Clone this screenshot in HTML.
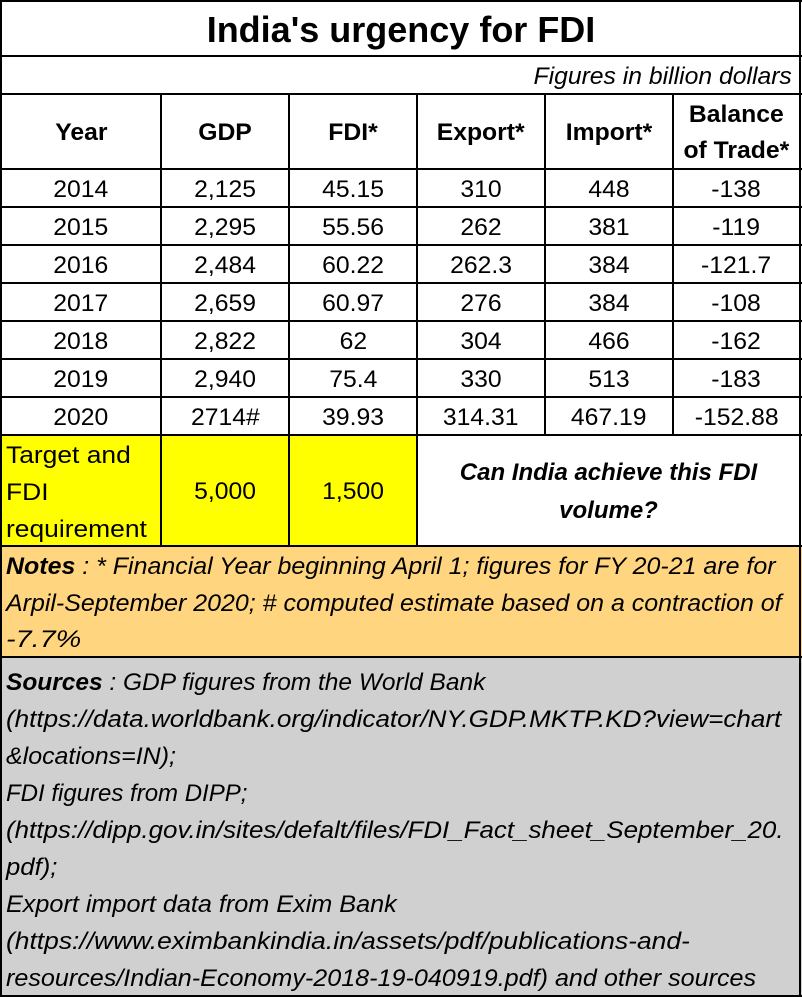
<!DOCTYPE html>
<html><head><meta charset="utf-8"><style>
body{margin:0;width:802px;height:997px;position:relative;background:#fff;font-family:"Liberation Sans",sans-serif;color:#000;overflow:hidden}
.h{position:absolute;height:2px;background:#000}
.v{position:absolute;width:2px;background:#000}
.c{position:absolute;display:flex;align-items:center;justify-content:center;text-align:center;font-size:24px;white-space:nowrap;padding-top:3px;box-sizing:border-box}
.c span{display:inline-block;transform:scaleX(1.03)}
.b{font-weight:bold}
.l{position:absolute;left:6px;font-size:24px;font-style:italic;white-space:nowrap;transform-origin:left center;line-height:37px}
</style></head><body>
<div style="position:absolute;left:0;top:434px;width:416px;height:111px;background:#ffff00"></div>
<div style="position:absolute;left:0;top:545px;width:802px;height:111px;background:#ffd580"></div>
<div style="position:absolute;left:0;top:656px;width:802px;height:341px;background:#d0d0d0"></div>

<div class="h" style="left:0;top:0;width:802px"></div>
<div class="h" style="left:0;top:55px;width:802px"></div>
<div class="h" style="left:0;top:93px;width:802px"></div>
<div class="h" style="left:0;top:168px;width:802px"></div>
<div class="h" style="left:0;top:206px;width:802px"></div>
<div class="h" style="left:0;top:244px;width:802px"></div>
<div class="h" style="left:0;top:282px;width:802px"></div>
<div class="h" style="left:0;top:320px;width:802px"></div>
<div class="h" style="left:0;top:358px;width:802px"></div>
<div class="h" style="left:0;top:396px;width:802px"></div>
<div class="h" style="left:0;top:434px;width:802px"></div>
<div class="h" style="left:0;top:545px;width:802px"></div>
<div class="h" style="left:0;top:656px;width:802px"></div>
<div class="h" style="left:0;top:995px;width:802px"></div>
<div class="v" style="left:0;top:0;height:997px"></div>
<div class="v" style="left:799px;top:0;height:997px"></div>
<div class="v" style="left:160px;top:93px;height:452px"></div>
<div class="v" style="left:288px;top:93px;height:452px"></div>
<div class="v" style="left:416px;top:93px;height:452px"></div>
<div class="v" style="left:544px;top:93px;height:341px"></div>
<div class="v" style="left:672px;top:93px;height:341px"></div>

<div class="c b" style="left:0;top:2px;width:802px;height:53px;font-size:36px"><span style="transform:none">India's urgency for FDI</span></div>
<div class="c" style="left:400px;top:57px;width:392px;height:36px;justify-content:flex-end;font-style:italic"><span style="transform-origin:right center;transform:scaleX(1.03)">Figures in billion dollars</span></div>

<div class="c b" style="left:2px;top:95px;width:158px;height:73px"><span>Year</span></div>
<div class="c b" style="left:162px;top:95px;width:126px;height:73px"><span>GDP</span></div>
<div class="c b" style="left:290px;top:95px;width:126px;height:73px"><span>FDI*</span></div>
<div class="c b" style="left:418px;top:95px;width:126px;height:73px"><span>Export*</span></div>
<div class="c b" style="left:546px;top:95px;width:126px;height:73px"><span>Import*</span></div>
<div class="c b" style="left:674px;top:95px;width:125px;height:73px;line-height:36px"><span>Balance<br>of Trade*</span></div>

<div id="rows"></div>
<script>
var d=[["2014","2,125","45.15","310","448","-138"],["2015","2,295","55.56","262","381","-119"],["2016","2,484","60.22","262.3","384","-121.7"],["2017","2,659","60.97","276","384","-108"],["2018","2,822","62","304","466","-162"],["2019","2,940","75.4","330","513","-183"],["2020","2714#","39.93","314.31","467.19","-152.88"]];
var xs=[2,162,290,418,546,674],ws=[158,126,126,126,126,125],h="";
d.forEach(function(r,i){r.forEach(function(t,j){h+='<div class="c" style="left:'+xs[j]+'px;top:'+(170+i*38)+'px;width:'+ws[j]+'px;height:36px"><span>'+t+'</span></div>';});});
document.getElementById("rows").innerHTML=h;
</script>

<div style="position:absolute;left:6px;top:437px;font-size:24px;line-height:37px;transform-origin:left top;transform:scaleX(1.1);white-space:nowrap">Target and<br>FDI<br>requirement</div>
<div class="c" style="left:162px;top:436px;width:126px;height:109px"><span>5,000</span></div>
<div class="c" style="left:290px;top:436px;width:126px;height:109px"><span>1,500</span></div>
<div class="c b" style="left:418px;top:436px;width:381px;height:109px;font-style:italic;line-height:38px"><span style="transform:none">Can India achieve this FDI<br>volume?</span></div>

<div class="l" style="top:548px;transform:scaleX(1.04)"><b>Notes</b> : * Financial Year beginning April 1; figures for FY 20-21 are for</div>
<div class="l" style="top:585px;transform:scaleX(1.04)">Arpil-September 2020; # computed estimate based on a contraction of</div>
<div class="l" style="top:621px;transform:scaleX(1.2)">-7.7%</div>

<div class="l" style="top:664px;transform:scaleX(1.02)"><b>Sources</b> : GDP figures from the World Bank</div>
<div class="l" style="top:701px;transform:scaleX(1.086)">(https://data.worldbank.org/indicator/NY.GDP.MKTP.KD?view=chart</div>
<div class="l" style="top:738px;transform:scaleX(1.04)">&amp;locations=IN);</div>
<div class="l" style="top:775px;transform:scaleX(1.0)">FDI figures from DIPP;</div>
<div class="l" style="top:812px;transform:scaleX(1.08)">(https://dipp.gov.in/sites/defalt/files/FDI_Fact_sheet_September_20.</div>
<div class="l" style="top:849px;transform:scaleX(1.07)">pdf);</div>
<div class="l" style="top:886px;transform:scaleX(1.05)">Export import data from Exim Bank</div>
<div class="l" style="top:923px;transform:scaleX(1.1)">(https://www.eximbankindia.in/assets/pdf/publications-and-</div>
<div class="l" style="top:960px;transform:scaleX(1.047)">resources/Indian-Economy-2018-19-040919.pdf) and other sources</div>
</body></html>
